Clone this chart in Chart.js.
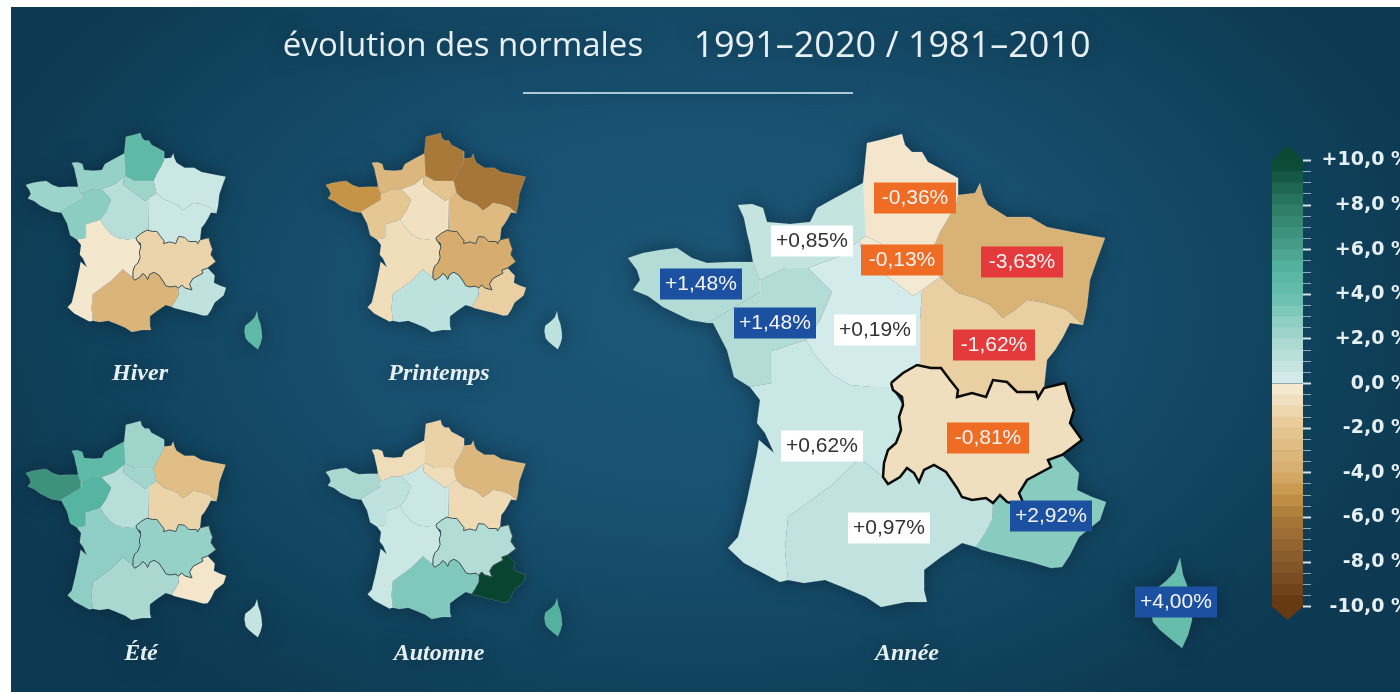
<!DOCTYPE html>
<html lang="fr">
<head>
<meta charset="utf-8">
<title>évolution des normales</title>
<script src="https://cdn.jsdelivr.net/npm/chart.js@4"></script>
<style>
  html, body { margin: 0; width: 1400px; height: 693px; overflow: hidden; background: #fff; }
  #panel {
    position: absolute; left: 11px; top: 7px; width: 1389px; height: 685px;
    background: radial-gradient(ellipse 760px 480px at 690px 300px, #1c5878 0%, #185070 45%, #10425c 80%, #0d3a52 100%);
  }
  canvas { position: absolute; filter: blur(0.5px); }
  .map { filter: blur(0.5px) drop-shadow(0 0 10px rgba(6, 30, 46, 0.6)); }
</style>
</head>
<body>
<div id="panel"></div>
<canvas id="mapAnnee" class="map" width="1400" height="693" style="left:0;top:0"></canvas>
<canvas id="mapHiver" class="map"></canvas>
<canvas id="mapPrintemps" class="map"></canvas>
<canvas id="mapEte" class="map"></canvas>
<canvas id="mapAutomne" class="map"></canvas>
<canvas id="colorBar" width="138" height="528" style="left:1272px;top:117px"></canvas>
<script>
// Régions, dans l'ordre de tous les tableaux de valeurs
const regionNames = ['HDF', 'NOR', 'IDF', 'BRE', 'PDL', 'CVL', 'GE', 'BFC', 'NA', 'OCC', 'PACA', 'COR', 'ARA'];

const hiverValues =     [4.5, 2.5, 2.2, 2.3, 2.8, 1.3, 0.6, 0.6, -0.3, -3.5, 1.0, 4.5, -1.4];
const printempsValues = [-6.0, -3.2, -2.2, -5.0, -2.0, -0.7, -6.2, -3.0, -0.9, 1.1, -1.6, 1.1, -4.0];
const eteValues =       [2.2, 4.4, 2.1, 6.8, 5.0, 1.3, -2.7, -1.4, 2.7, 1.8, -0.4, 0.8, 2.5];
const automneValues =   [-1.5, -1.0, -1.0, 1.8, 1.0, 0.6, -3.2, -1.1, 0.6, 3.2, 10.0, 5.2, 1.5];
const anneeValues =     [-0.36, 0.85, -0.13, 1.48, 1.48, 0.19, -3.63, -1.62, 0.62, 0.97, 2.92, 4.00, -0.81];

// Contours des régions, coordonnées de la grande carte
const outlineHDF = [[867,143],[880,140],[902,134],[905,145],[912,152],[922,152],[928,162],[943,170],[958,178],[958,195],[957,201],[950,215],[940,232],[933,248],[889,248],[866,236],[863,183]];
const outlineNOR = [[738,205],[752,204],[763,208],[767,222],[790,224],[810,222],[817,208],[835,198],[863,183],[866,193],[866,236],[860,240],[840,256],[808,268],[785,268],[760,280],[753,262],[750,245],[747,233],[744,218]];
const outlineIDF = [[866,236],[889,248],[933,248],[940,277],[922,290],[913,296],[895,282],[880,272],[862,258],[860,240]];
const outlineBRE = [[628,258],[643,253],[660,250],[677,248],[692,258],[707,263],[730,262],[753,262],[760,280],[760,292],[730,310],[708,323],[690,320],[663,307],[648,296],[633,290],[640,280],[637,270]];
const outlinePDL = [[760,292],[760,280],[785,268],[808,268],[832,292],[820,320],[806,340],[790,345],[772,351],[772,383],[750,387],[734,377],[727,350],[713,323],[708,323],[730,310]];
const outlineCVL = [[808,268],[840,256],[860,240],[862,258],[880,272],[895,282],[913,296],[922,290],[920,320],[920,363],[917,368],[904,376],[891,386],[872,387],[850,385],[832,375],[815,355],[806,340],[820,320],[832,292]];
const outlineGE = [[958,195],[975,193],[980,183],[983,195],[988,205],[1007,217],[1030,217],[1047,227],[1077,233],[1105,238],[1097,260],[1090,280],[1087,307],[1083,325],[1067,310],[1045,303],[1027,300],[1015,310],[1003,318],[990,305],[975,298],[958,293],[940,277],[933,248],[940,232],[950,215],[957,201]];
const outlineBFC = [[940,277],[958,293],[975,298],[990,305],[1003,318],[1015,310],[1027,300],[1045,303],[1067,310],[1083,325],[1070,323],[1063,337],[1055,350],[1047,360],[1044,388],[1038,400],[1017,396],[990,400],[955,400],[945,380],[930,375],[917,370],[920,363],[920,320],[922,290]];
const outlineNA = [[772,351],[790,345],[806,340],[815,355],[832,375],[850,385],[872,387],[891,383],[893,390],[903,405],[901,430],[896,443],[888,450],[884,463],[883,477],[860,458],[832,485],[788,517],[785,550],[788,580],[780,582],[744,563],[728,548],[738,537],[747,500],[757,453],[759,440],[774,453],[765,433],[757,423],[760,400],[750,387],[772,383]];
const outlineOCC = [[883,477],[888,484],[900,477],[907,468],[914,473],[919,482],[924,470],[934,465],[946,472],[957,488],[962,497],[972,500],[986,498],[993,503],[992,520],[984,535],[976,547],[962,543],[941,557],[924,570],[924,590],[927,602],[906,602],[881,607],[866,597],[845,588],[825,580],[804,583],[788,580],[785,550],[788,517],[832,485],[860,458]];
const outlinePACA = [[993,503],[1000,495],[1007,502],[1025,507],[1019,493],[1027,480],[1039,473],[1051,467],[1048,460],[1062,455],[1067,460],[1079,473],[1077,490],[1092,497],[1106,502],[1100,520],[1079,537],[1070,555],[1062,567],[1051,568],[1031,562],[1010,557],[982,550],[976,547],[984,535],[992,520]];
const outlineCOR = [[1180,558],[1183,575],[1188,588],[1191,605],[1192,620],[1188,635],[1182,648],[1172,640],[1160,630],[1153,622],[1150,605],[1152,592],[1165,582],[1175,572]];
const outlineARA = [[891,383],[903,373],[917,365],[931,368],[941,368],[950,380],[958,390],[957,397],[972,393],[986,397],[993,380],[1007,382],[1017,392],[1036,392],[1038,398],[1044,388],[1065,383],[1070,400],[1074,410],[1070,423],[1082,440],[1062,455],[1048,460],[1051,467],[1027,480],[1019,493],[1025,507],[1007,502],[1000,495],[993,503],[986,498],[972,500],[962,497],[957,488],[946,472],[934,465],[924,470],[919,482],[914,473],[907,468],[900,477],[888,484],[883,477],[884,463],[888,450],[896,443],[901,430],[899,417],[903,405],[902,397],[893,390]];
const regionOutlines = [outlineHDF, outlineNOR, outlineIDF, outlineBRE, outlinePDL, outlineCVL, outlineGE, outlineBFC, outlineNA, outlineOCC, outlinePACA, outlineCOR, outlineARA];

// Echelle de couleur
const rampValues = [-10, -8, -6, -5, -4, -3, -2, -1, -0.001, 0.001, 1, 2, 3, 4, 5, 6, 8, 10];
const rampColors = ['#633510', '#86592b', '#a9793a', '#c69447', '#d6ad6f', '#deba80', '#e5c793', '#efdcb8', '#f5ecd8',
                    '#d8eeee', '#c0e2de', '#a5d6ce', '#86cbbf', '#66bdab', '#55b5a1', '#4aa08d', '#2b7a63', '#08442f'];
const barEdges = [-10, -9.5, -9, -8.5, -8, -7.5, -7, -6.5, -6, -5.5, -5, -4.5, -4, -3.5, -3, -2.5, -2, -1.5, -1, -0.5, 0,
                  0.5, 1, 1.5, 2, 2.5, 3, 3.5, 4, 4.5, 5, 5.5, 6, 6.5, 7, 7.5, 8, 8.5, 9, 9.5, 10];
const barLabels = [-10, -8, -6, -4, -2, 0, 2, 4, 6, 8, 10];

// Etiquettes de la grande carte : position du centre de chaque étiquette
const labelCenters = [[915,198],[812,241],[902,260],[701,284],[775,323],[875,330],[1022,262],[994,345],[822,446],[889,528],[1051,516],[1176,602],[988,438]];

function hexToRgb(hex) {
    return [1, 3, 5].map(i => parseInt(hex.slice(i, i + 2), 16));
}

function rampColor(value) {
    let i = 0;
    while (i < rampValues.length - 2 && value > rampValues[i + 1]) i++;
    const t = Math.min(1, Math.max(0, (value - rampValues[i]) / (rampValues[i + 1] - rampValues[i])));
    const a = hexToRgb(rampColors[i]), b = hexToRgb(rampColors[i + 1]);
    return `rgb(${a.map((c, k) => Math.round(c + (b[k] - c) * t)).join(',')})`;
}

function formatPercent(value) {
    return (value > 0 ? '+' : '-') + Math.abs(value).toFixed(2).replace('.', ',') + '%';
}

function labelBoxColor(value) {
    if (value >= 1) return '#1c50a0';
    if (value >= 0) return '#ffffff';
    return value > -1 ? '#ef6c25' : '#e53a3c';
}

function regionDatasets(values, araColor, araWidth) {
    return regionOutlines.map((outline, i) => {
        const isAra = regionNames[i] === 'ARA';
        return {
            label: regionNames[i],
            data: outline.concat([outline[0]]).map(p => ({ x: p[0], y: p[1] })),
            showLine: true,
            fill: 'shape',
            tension: 0,
            pointRadius: 0,
            order: isAra ? -1 : 0,  // ordre bas = dessiné par-dessus
            backgroundColor: rampColor(values[i]),
            borderColor: isAra ? araColor : 'rgba(235,245,245,0.2)',
            borderWidth: isAra ? araWidth : 0.8
        };
    });
}

function mapOptions(xMin, xMax, yMin, yMax) {
    return {
        responsive: false,
        animation: false,
        layout: { padding: 0 },
        plugins: { legend: { display: false }, tooltip: { enabled: false }, title: { display: false } },
        scales: {
            x: { type: 'linear', display: false, min: xMin, max: xMax },
            y: { type: 'linear', display: false, min: yMin, max: yMax, reverse: true }
        }
    };
}

// Texte de la page, dessiné sur le grand canvas (1 unité = 1 px)
const pageTexts = [
    { text: 'évolution des normales', x: 463, y: 47, font: '400 33px "Open Sans"' },
    { text: '1991–2020 / 1981–2010', x: 892, y: 47, font: '400 36px "Open Sans"' },
    { text: 'Hiver', x: 140, y: 374, font: 'italic 700 24px "Liberation Serif"' },
    { text: 'Printemps', x: 439, y: 374, font: 'italic 700 24px "Liberation Serif"' },
    { text: 'Été', x: 141, y: 654, font: 'italic 700 24px "Liberation Serif"' },
    { text: 'Automne', x: 439, y: 654, font: 'italic 700 24px "Liberation Serif"' },
    { text: 'Année', x: 907, y: 654, font: 'italic 700 24px "Liberation Serif"' }
];

const pagePlugin = {
    id: 'pageText',
    afterDraw(chart) {
        const { ctx, scales: { x, y } } = chart;
        ctx.save();
        ctx.strokeStyle = '#a9c9d8';
        ctx.lineWidth = 2;
        ctx.beginPath();
        ctx.moveTo(x.getPixelForValue(523), y.getPixelForValue(93));
        ctx.lineTo(x.getPixelForValue(853), y.getPixelForValue(93));
        ctx.stroke();

        ctx.textAlign = 'center';
        ctx.textBaseline = 'middle';
        pageTexts.forEach(t => {
            ctx.font = t.font;
            ctx.fillStyle = '#e6eff2';
            ctx.fillText(t.text, x.getPixelForValue(t.x), y.getPixelForValue(t.y));
        });

        // Etiquettes de valeur
        ctx.font = '21px "Liberation Sans"';
        anneeValues.forEach((v, i) => {
            const cx = x.getPixelForValue(labelCenters[i][0]);
            const cy = y.getPixelForValue(labelCenters[i][1]);
            ctx.fillStyle = labelBoxColor(v);
            ctx.fillRect(cx - 41, cy - 15.5, 82, 31);
            ctx.fillStyle = (v >= 0 && v < 1) ? '#333333' : '#f4f4f4';
            ctx.fillText(formatPercent(v), cx, cy);
        });
        ctx.restore();
    }
};

new Chart(document.getElementById('mapAnnee'), {
    type: 'scatter',
    data: { datasets: regionDatasets(anneeValues, '#0a0a0a', 2.5) },
    options: mapOptions(0, 1400, 0, 693),
    plugins: [pagePlugin]
});

// Petites cartes : mêmes contours, seule la plage des axes change
const smallK = [0.419, 0.421];
const smallMaps = [
    { id: 'mapHiver', values: hiverValues, px: 22, py: 133 },
    { id: 'mapPrintemps', values: printempsValues, px: 322, py: 133 },
    { id: 'mapEte', values: eteValues, px: 22, py: 421 },
    { id: 'mapAutomne', values: automneValues, px: 322, py: 420 }
];

smallMaps.forEach(m => {
    const canvas = document.getElementById(m.id);
    const xMin = 600, yMin = 120, w = 268, h = 227;
    canvas.width = w;
    canvas.height = h;
    canvas.style.left = (m.px - (620 - xMin) * smallK[0]) + 'px';
    canvas.style.top = (m.py - (134 - yMin) * smallK[1]) + 'px';
    new Chart(canvas, {
        type: 'scatter',
        data: { datasets: regionDatasets(m.values, '#3f5358', 1) },
        options: mapOptions(xMin, xMin + w / smallK[0], yMin, yMin + h / smallK[1])
    });
});

// Barre de couleur
const barDatasets = barEdges.slice(0, -1).map((lo, i) => ({
    type: 'bar',
    data: [{ x: 0, y: [lo, barEdges[i + 1]] }],
    backgroundColor: rampColor((lo + barEdges[i + 1]) / 2),
    borderWidth: 0,
    barPercentage: 1,
    categoryPercentage: 1,
    grouped: false
}));

function capDataset(tip, base, color) {
    return {
        type: 'line',
        data: [{ x: -0.5, y: base }, { x: 0, y: tip }, { x: 0.5, y: base }, { x: -0.5, y: base }],
        fill: 'shape',
        tension: 0,
        pointRadius: 0,
        borderWidth: 0,
        backgroundColor: color
    };
}

new Chart(document.getElementById('colorBar'), {
    data: { datasets: barDatasets.concat([capDataset(10.7, 10, rampColor(9.8)), capDataset(-10.6, -10, rampColor(-9.8))]) },
    options: {
        responsive: false,
        animation: false,
        layout: { padding: 0 },
        plugins: { legend: { display: false }, tooltip: { enabled: false } },
        scales: {
            x: { type: 'linear', display: false, min: -0.5, max: 0.5, offset: false },
            y: {
                type: 'linear',
                position: 'right',
                min: -11.12,
                max: 11.35,
                border: { display: false },
                afterBuildTicks: scale => { scale.ticks = barEdges.map(v => ({ value: v })); },
                afterFit: scale => { scale.width = 107; },
                grid: {
                    drawOnChartArea: false,
                    tickLength: 8,
                    tickWidth: c => (c.tick && barLabels.includes(c.tick.value)) ? 2 : 1,
                    tickColor: c => (c.tick && barLabels.includes(c.tick.value)) ? '#d5e3e8' : 'rgba(200,220,228,0.7)'
                },
                ticks: {
                    autoSkip: false,
                    color: '#e6eff2',
                    font: { family: 'DejaVu Sans', weight: 'bold', size: 19 },
                    padding: 2,
                    crossAlign: 'far',
                    callback: v => {
                        if (!barLabels.includes(v)) return '';
                        const s = Math.abs(v).toFixed(1).replace('.', ',') + ' %';
                        return v > 0 ? '+' + s : v < 0 ? '-' + s : s;
                    }
                }
            }
        }
    }
});
</script>
</body>
</html>
